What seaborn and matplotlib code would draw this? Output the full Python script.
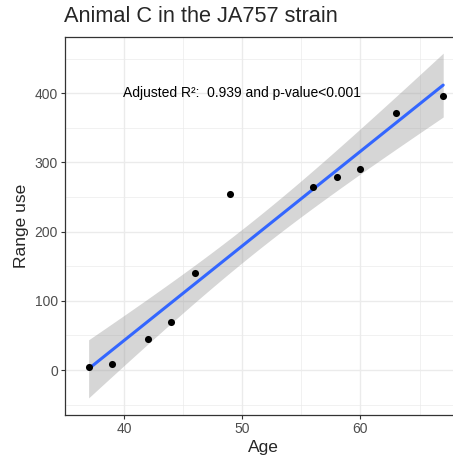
import numpy as np
import pandas as pd
import seaborn as sns
import matplotlib.pyplot as plt

age = [37, 39, 42, 44, 46, 49, 56, 58, 60, 63, 67]
range_use = [5, 8, 45, 70, 140, 255, 264, 279, 291, 371, 396]
x_ticks = [40, 50, 60]
y_ticks = [0, 100, 200, 300, 400]
annotation = "Adjusted R\u00b2:  0.939 and p-value<0.001"

df = pd.DataFrame({"Age": age, "Range use": range_use})

# linear fit with analytic 95% confidence band (like geom_smooth(method = "lm"))
x = df["Age"].to_numpy(float)
y = df["Range use"].to_numpy(float)
n = len(x)
slope, intercept = np.polyfit(x, y, 1)
resid = y - (intercept + slope * x)
s = np.sqrt((resid ** 2).sum() / (n - 2))
t_crit = 2.262157  # t(0.975, df=9)
xs = np.linspace(x.min(), x.max(), 80)
fit = intercept + slope * xs
se = s * np.sqrt(1 / n + (xs - x.mean()) ** 2 / ((x - x.mean()) ** 2).sum())
fit_df = pd.DataFrame({"Age": xs, "fit": fit})

sns.set_theme(style="white")
plt.rcParams['font.family'] = ['Liberation Sans', 'DejaVu Sans']

fig = plt.figure(figsize=(4.53, 4.59), dpi=100)
ax = fig.add_axes([0.1435, 0.0959, 0.874, 0.823])

ax.fill_between(xs, fit - t_crit * se, fit + t_crit * se, color="#999999",
                alpha=0.4, lw=0, zorder=2)
sns.lineplot(data=fit_df, x="Age", y="fit", ax=ax, color="#3366FF", lw=2.2, zorder=3)
sns.scatterplot(data=df, x="Age", y="Range use", ax=ax, color="black", s=26,
                linewidth=0, zorder=4)

ax.set_xlim(35.5, 68.5)
ax.set_ylim(-65, 481)
ax.set_xticks(x_ticks)
ax.set_yticks(y_ticks)
ax.set_xticks([35, 45, 55, 65], minor=True)
ax.set_yticks([-50, 50, 150, 250, 350, 450], minor=True)
ax.grid(True, which="major", color="#EBEBEB", lw=1.0, zorder=0)
ax.grid(True, which="minor", color="#EBEBEB", lw=0.5, zorder=0)
ax.set_axisbelow(True)
ax.tick_params(which="major", direction="out", length=3, width=0.8, color="#333333",
               labelsize=10, labelcolor="#4D4D4D", bottom=True, left=True, pad=2)
ax.tick_params(which="minor", length=0)
for sp in ax.spines.values():
    sp.set_color("#333333")
    sp.set_linewidth(0.9)

ax.text(50, 400, annotation, ha="center", va="center", fontsize=10, color="black")

ax.set_xlabel("Age", fontsize=12.5, labelpad=3)
ax.set_ylabel("Range use", fontsize=12.5, labelpad=4)
fig.text(0.141, 0.965, "Animal C in the JA757 strain", fontsize=15.7, ha="left", va="center")

fig.savefig("out.png", dpi=100)
